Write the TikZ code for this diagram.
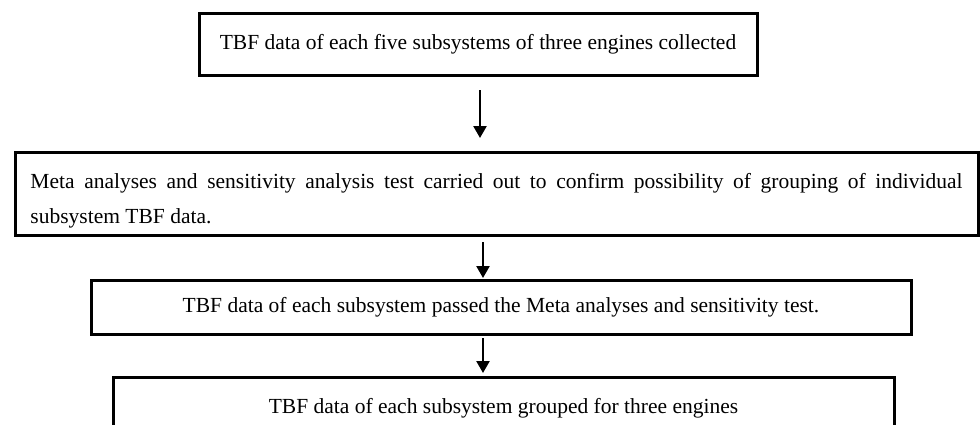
\documentclass[tikz,border=0pt]{standalone}
\usepackage{fontspec}
\setmainfont{Liberation Serif}
\usetikzlibrary{arrows.meta}
\begin{document}
\begin{tikzpicture}[x=1pt,y=-1pt,
  box/.style={draw=black,line width=3pt,inner sep=0pt,font=\fontsize{21.5}{35}\selectfont},
  flow/.style={line width=2.4pt,-{Triangle[length=12pt,width=13pt]}}]
\useasboundingbox (0,0) rectangle (980,424);
\clip (0,0) rectangle (980,424);
\node[box,minimum width=558,minimum height=62] (b1) at (478,44) {TBF data of each five subsystems of three engines collected};
\node[box,minimum width=963,minimum height=83,text width=932,align=justify,inner xsep=15.5pt] (b2) at (496.5,193.5)
  {\rule{0pt}{29pt}Meta analyses and sensitivity analysis test carried out to confirm possibility of grouping of individual\linebreak subsystem TBF data.};
\node[box,minimum width=820,minimum height=54] (b3) at (501,307) {TBF data of each subsystem passed the Meta analyses and sensitivity test.};
\node[box,minimum width=781,minimum height=62] (b4) at (503.5,408) {TBF data of each subsystem grouped for three engines};
\coordinate (a1s) at (480,90);
\coordinate (a1e) at (480,138);
\coordinate (a2s) at (483,242);
\coordinate (a2e) at (483,278);
\coordinate (a3s) at (483,338);
\coordinate (a3e) at (483,373);
\draw[flow] (a1s) -- (a1e);
\draw[flow] (a2s) -- (a2e);
\draw[flow] (a3s) -- (a3e);
\end{tikzpicture}
\end{document}
